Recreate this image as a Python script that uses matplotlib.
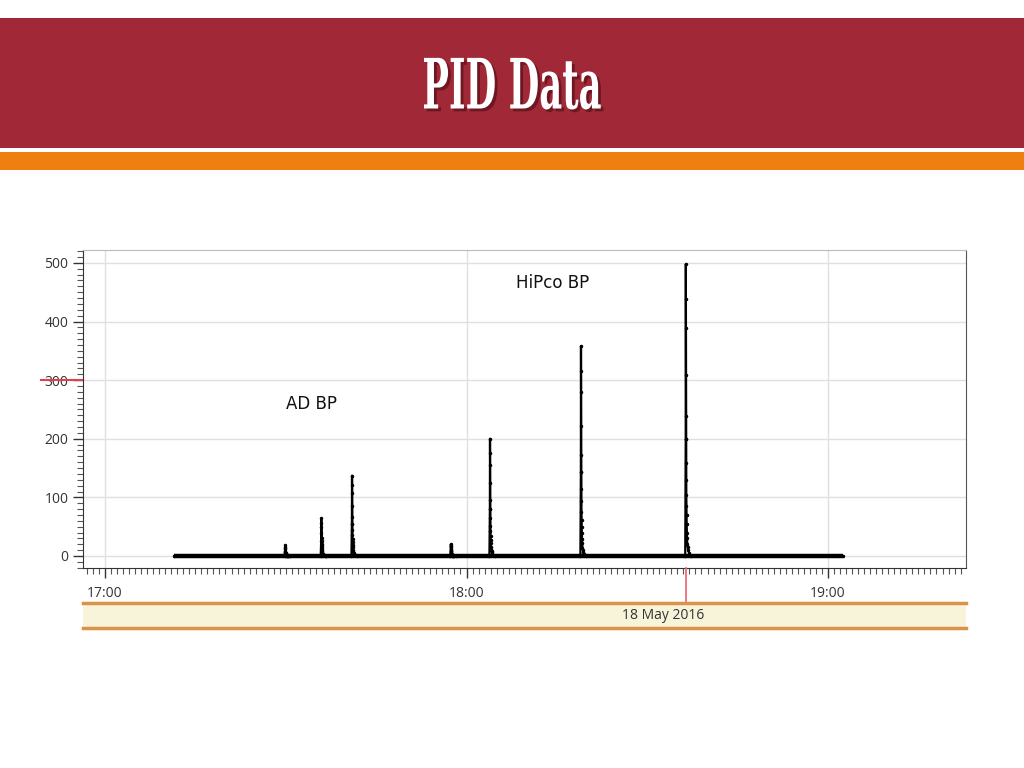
import numpy as np
import matplotlib
matplotlib.use("Agg")
import matplotlib.pyplot as plt
from matplotlib.patches import Rectangle
from matplotlib.ticker import MultipleLocator, FixedLocator
from matplotlib.transforms import Affine2D
import matplotlib.patheffects as pe

# minutes after 17:00
trace_start = 11.5
trace_end = 122.5
peak_times = [29.9, 35.9, 41.0, 57.4, 63.9, 79.0, 96.4]
peak_heights = [18, 64, 137, 20, 200, 358, 498]
# peak profile: offsets (min) and fraction of apex
shape_dt = [-0.10, -0.02, 0.0, 0.01, 0.02, 0.03, 0.04, 0.05, 0.06, 0.07, 0.08,
            0.10, 0.12, 0.14, 0.17, 0.20, 0.25, 0.32, 0.40, 0.55, 0.80]
shape_fr = [0.0, 0.4, 1.0, 0.88, 0.78, 0.62, 0.48, 0.40, 0.32, 0.26, 0.21,
            0.17, 0.14, 0.11, 0.08, 0.06, 0.04, 0.03, 0.02, 0.01, 0.0]

x_ticks = [0, 60, 120]
x_labels = ["17:00", "18:00", "19:00"]
y_ticks = [0, 100, 200, 300, 400, 500]
date_label = "18 May 2016"
cursor_time = 96.4
cursor_value = 300

t = [trace_start]
v = [0.0]
for pt, ph in zip(peak_times, peak_heights):
    for dt, fr in zip(shape_dt, shape_fr):
        t.append(pt + dt)
        v.append(ph * fr)
t.append(trace_end)
v.append(0.0)

W, H = 1024, 768


class Squeeze(pe.AbstractPathEffect):
    """draw text squeezed horizontally around a centre (condensed look)"""
    def __init__(self, sx, cx, inner):
        super().__init__()
        self.sx, self.cx, self.inner = sx, cx, inner

    def draw_path(self, renderer, gc, tpath, affine, rgbFace=None):
        sq = Affine2D().translate(-self.cx, 0).scale(self.sx, 1).translate(self.cx, 0)
        for eff in self.inner:
            eff.draw_path(renderer, gc, tpath, affine + sq, rgbFace)


fig = plt.figure(figsize=(W / 100, H / 100), dpi=100)
fig.patch.set_facecolor("white")

# banner
fig.add_artist(Rectangle((0, 1 - 148 / H), 1, 130 / H, transform=fig.transFigure,
                         facecolor="#a02837", edgecolor="none"))
fig.add_artist(Rectangle((0, 1 - 170 / H), 1, 18 / H, transform=fig.transFigure,
                         facecolor="#ef7f10", edgecolor="none"))
fig.text(0.5, 1 - 89 / H, "PID Data", ha="center", va="center", color="white",
         fontsize=50, fontweight="bold", family="DejaVu Serif",
         path_effects=[Squeeze(0.51, 512, [
             pe.SimplePatchShadow(offset=(2, -2), shadow_rgbFace="#4a0c14", alpha=0.6),
             pe.Normal()])])

ax = fig.add_axes([83 / W, 1 - 568 / H, 883 / W, 318 / H])
ax.plot([trace_start, trace_end], [0, 0], color="black", lw=3.2, solid_capstyle="butt")
ax.plot(t, v, color="black", lw=1.6, marker=".", ms=3)
ax.set_xlim(-3.65, 142.9)
ax.set_ylim(-20.5, 522)

ax.xaxis.set_major_locator(FixedLocator(x_ticks))
ax.set_xticklabels(x_labels)
ax.xaxis.set_minor_locator(MultipleLocator(1))
ax.yaxis.set_major_locator(FixedLocator(y_ticks))
ax.yaxis.set_minor_locator(MultipleLocator(10))
ax.grid(True, which="major", color="#e0e0e0", lw=1)
ax.set_axisbelow(True)

ax.tick_params(axis="both", which="major", labelsize=10, labelcolor="#333333",
               color="#333333", direction="out", length=7, width=1)
ax.tick_params(axis="both", which="minor", color="#555555", direction="out", length=4, width=0.8)
ax.tick_params(axis="x", which="major", pad=6)
for lab in ax.get_xticklabels() + ax.get_yticklabels():
    lab.set_family("Open Sans")

ax.spines["top"].set_color("#bbbbbb")
ax.spines["right"].set_color("#555555")
ax.spines["left"].set_color("#333333")
ax.spines["bottom"].set_color("#333333")

ax.text(0.532, 0.896, "HiPco BP", transform=ax.transAxes, fontsize=12,
        ha="center", va="center", color="#111111")
ax.text(0.259, 0.516, "AD BP", transform=ax.transAxes, fontsize=12,
        ha="center", va="center", color="#111111")

# cursor marks
ax.plot([-0.047, 0], [cursor_value, cursor_value], color="#e04050", lw=1.5,
        transform=ax.get_yaxis_transform(), clip_on=False)
ax.plot([cursor_time, cursor_time], [-0.19, 0], color="#f06070", lw=1.2,
        transform=ax.get_xaxis_transform(), clip_on=False, zorder=5)

# date bar
dax = fig.add_axes([83 / W, 1 - 628 / H, 883 / W, 25 / H])
dax.set_facecolor("#f8f4da")
dax.set_xlim(ax.get_xlim())
dax.set_ylim(0, 1)
dax.set_xticks([])
dax.set_yticks([])
for s in ["left", "right"]:
    dax.spines[s].set_visible(False)
for s in ["top", "bottom"]:
    dax.spines[s].set_color("#d9934a")
    dax.spines[s].set_linewidth(2.5)
dax.text(0.657, 0.5, date_label, transform=dax.transAxes, ha="center", va="center",
         fontsize=10, color="#333333", family="Open Sans")

fig.savefig("out.png", dpi=100)
